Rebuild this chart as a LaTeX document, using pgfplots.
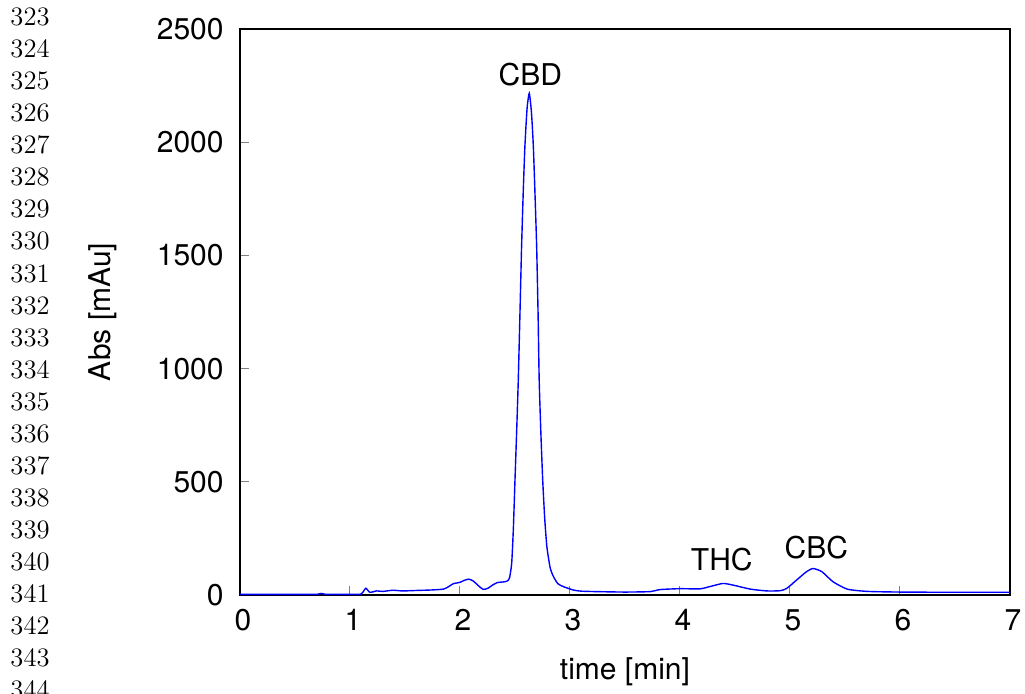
\documentclass[border=0pt]{standalone}
\usepackage{fontspec}
\setmainfont{TeX Gyre Heros}
\newfontfamily\lmfont{Latin Modern Roman}
\usepackage{pgfplots}
\pgfplotsset{compat=1.18}
\begin{document}
\fontsize{15}{18}\selectfont
\begin{tikzpicture}
\useasboundingbox (-120pt,-49pt) rectangle (392.5pt,297.5pt);
\foreach \n [count=\i from 0] in {323,...,344} {
  \node[anchor=east, inner sep=0pt, font=\lmfont\fontsize{13.3}{16}\selectfont] at (-95pt,{289pt-\i*16.03pt}) {\n};
}
\begin{axis}[
  at={(0,0)}, anchor=south west,
  scale only axis, width=385pt, height=283pt,
  xmin=0, xmax=7, ymin=0, ymax=2500,
  xtick={0,...,7}, ytick={0,500,...,2500},
  xtick pos=bottom, ytick pos=left,
  axis line style={black, line width=0.6pt},
  tick align=inside, major tick length=4.5pt,
  tick style={gray, line width=0.5pt},
  every tick label/.append style={font=\fontsize{15}{18}\selectfont},
  /pgf/number format/assume math mode=true,
  /pgf/number format/1000 sep={},
  xticklabel style={yshift=-2pt, xshift=1.5pt},
  yticklabel style={xshift=-3pt},
  xlabel={time [min]}, ylabel={Abs [mAu]},
  label style={font=\fontsize{15}{18}\selectfont},
  xlabel style={yshift=-3pt},
  ylabel style={yshift=10pt},
  clip=true,
]
\addplot[blue, line width=0.7pt, smooth, tension=0.35] coordinates {
(0,3) (0.3,3) (0.6,3) (0.70,3) (0.74,7) (0.78,3) (1.0,3) (1.10,4)
(1.13,22) (1.145,30) (1.16,22) (1.18,12) (1.21,14) (1.24,18) (1.30,16)
(1.39,21) (1.48,18) (1.60,20) (1.73,22) (1.85,26) (1.90,38) (1.94,50)
(2.00,56) (2.04,65) (2.08,70) (2.12,62) (2.17,40) (2.21,25) (2.25,29)
(2.30,45) (2.34,55) (2.40,58) (2.43,62) (2.45,75) (2.47,140) (2.485,290)
(2.50,508) (2.515,720) (2.53,950) (2.545,1240) (2.56,1539) (2.575,1780)
(2.59,1980) (2.61,2150) (2.63,2216) (2.65,2130) (2.667,1980) (2.682,1770)
(2.697,1539) (2.71,1240) (2.72,950) (2.735,720) (2.752,508) (2.77,340)
(2.79,213) (2.82,120) (2.85,81) (2.89,50) (2.94,37) (3.03,22) (3.1,17) (3.24,15)
(3.5,13) (3.73,15) (3.82,24) (4.0,28) (4.18,27) (4.27,37) (4.39,51)
(4.48,44) (4.64,26) (4.79,18) (4.91,19) (4.97,29) (5.06,66) (5.15,103)
(5.21,117) (5.29,103) (5.39,59) (5.52,26) (5.70,16) (6.0,13) (6.5,12) (7.0,12)
};
\node[font=\fontsize{15}{18}\selectfont] at (axis cs:2.64,2297) {CBD};
\node[font=\fontsize{15}{18}\selectfont] at (axis cs:4.38,155) {THC};
\node[font=\fontsize{15}{18}\selectfont] at (axis cs:5.24,208) {CBC};
\end{axis}
\end{tikzpicture}
\end{document}
